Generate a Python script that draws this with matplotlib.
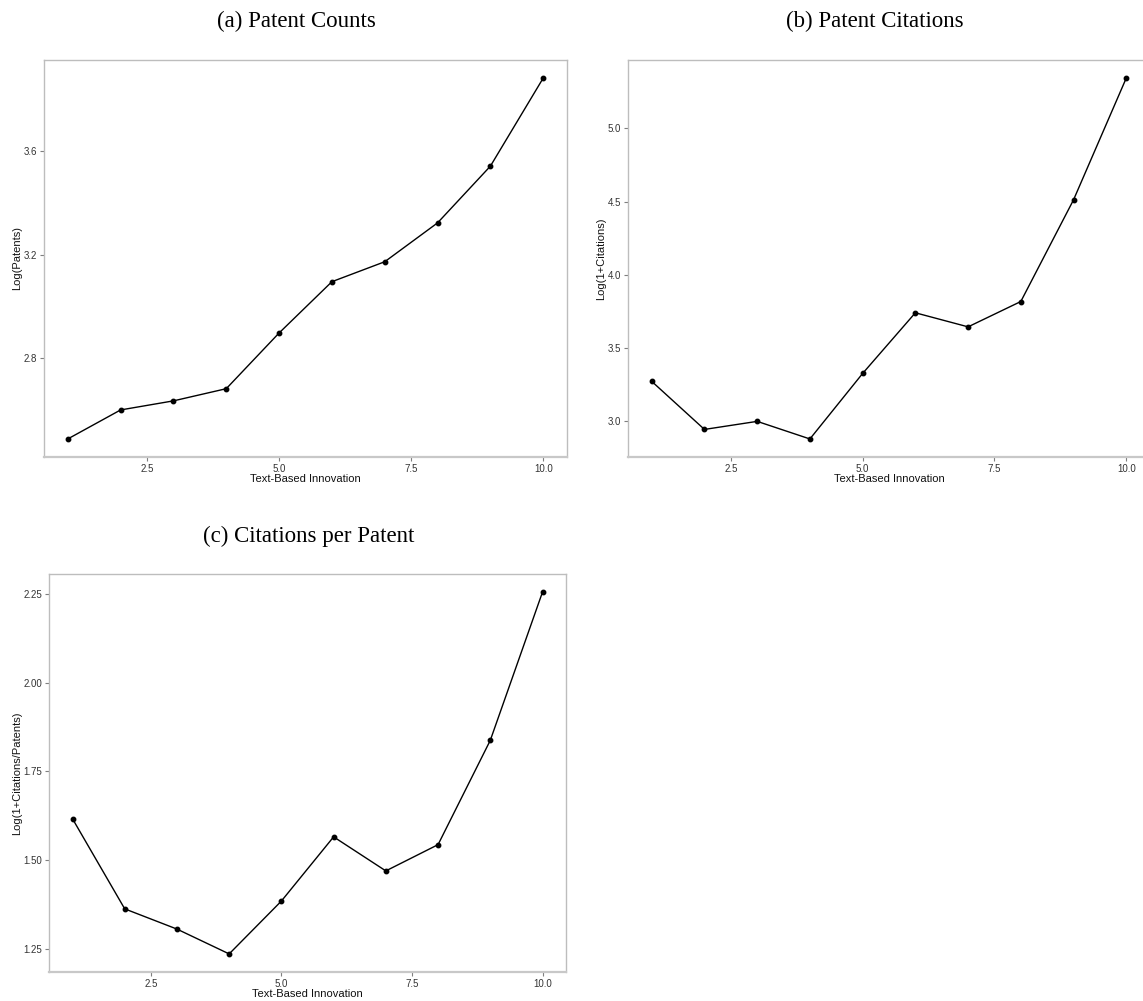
"""Three small panels: text-based innovation deciles against patent outcomes."""

import matplotlib

matplotlib.use("Agg")
import matplotlib.pyplot as plt

W, H = 1143, 1001

deciles = [1, 2, 3, 4, 5, 6, 7, 8, 9, 10]
log_patents = [2.489, 2.601, 2.636, 2.683, 2.898, 3.096, 3.173, 3.323, 3.542, 3.882]
log_citations = [3.273, 2.945, 3.000, 2.880, 3.327, 3.741, 3.645, 3.818, 4.512, 5.343]
log_cites_per_patent = [1.616, 1.362, 1.305, 1.235, 1.384, 1.565, 1.469, 1.543, 1.837, 2.255]

titles = ["(a) Patent Counts", "(b) Patent Citations", "(c) Citations per Patent"]
ylabels = ["Log(Patents)", "Log(1+Citations)", "Log(1+Citations/Patents)"]
yticks = [
    [2.8, 3.2, 3.6],
    [3.0, 3.5, 4.0, 4.5, 5.0],
    [1.25, 1.50, 1.75, 2.00, 2.25],
]
yfmt = ["{:.1f}", "{:.1f}", "{:.2f}"]
xticks = [2.5, 5.0, 7.5, 10.0]

# panel boxes in pixels: left, top, right, bottom
boxes = [(44, 60, 567, 457), (628, 60, 1150, 457), (49, 574, 566, 972)]
title_pos = [(296, 21), (875, 21), (309, 536)]
series = [log_patents, log_citations, log_cites_per_patent]

SANS = ["Liberation Sans", "DejaVu Sans"]
SERIF = ["Liberation Serif", "DejaVu Serif"]
FRAME = "#bdbdbd"
TXT = "#333333"

fig = plt.figure(figsize=(W / 100, H / 100), dpi=100)

for i, y in enumerate(series):
    l, t, r, b = boxes[i]
    ax = fig.add_axes([l / W, 1 - b / H, (r - l) / W, (b - t) / H])
    ax.plot(deciles, y, color="black", lw=1.0, marker="o", ms=3.2,
            mec="black", mfc="black", clip_on=False)

    lo, hi = min(y), max(y)
    pad = 0.05 * (hi - lo)
    ax.set_ylim(lo - pad, hi + pad)
    ax.set_xlim(0.55, 10.45)

    ax.set_xticks(xticks)
    ax.set_xticklabels([f"{v:.1f}" for v in xticks], family=SANS, fontsize=7,
                       color=TXT)
    ax.set_yticks(yticks[i])
    ax.set_yticklabels([yfmt[i].format(v) for v in yticks[i]], family=SANS,
                       fontsize=7, color=TXT)
    ax.tick_params(axis="both", length=3, width=0.8, color="#7f7f7f", pad=2)

    for side in ["top", "right", "left"]:
        ax.spines[side].set_color(FRAME)
        ax.spines[side].set_linewidth(1.0)
    ax.spines["bottom"].set_color("#c8c8c8")
    ax.spines["bottom"].set_linewidth(1.6)

    ax.set_xlabel("Text-Based Innovation", family=SANS, fontsize=8,
                  color="#111111", labelpad=0)
    ax.set_ylabel(ylabels[i], family=SANS, fontsize=8, color="#111111",
                  labelpad=1)

    tx, ty = title_pos[i]
    fig.text(tx / W, 1 - ty / H, titles[i], family=SERIF, fontsize=16.5,
             ha="center", va="center", color="black")

fig.savefig("out.png", dpi=100)
